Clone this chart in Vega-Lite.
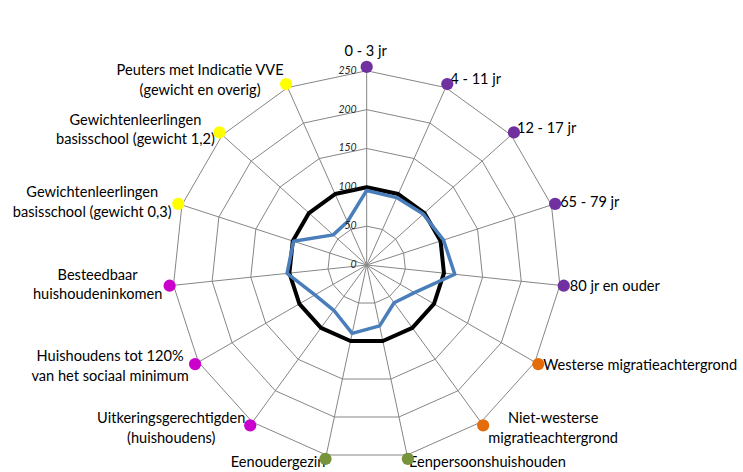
{
  "$schema": "https://vega.github.io/schema/vega-lite/v6.json",
  "width": 743,
  "height": 472,
  "autosize": {"type": "fit", "contains": "padding"},
  "padding": 0,
  "background": "white",
  "config": {"view": {"stroke": null}, "font": "Lato"},
  "datasets": {
    "axes": [
      {"i": 0, "cat": "0 - 3 jr", "grp": "leeftijd", "gebied": 96, "ref": 100},
      {"i": 1, "cat": "4 - 11 jr", "grp": "leeftijd", "gebied": 95, "ref": 100},
      {"i": 2, "cat": "12 - 17 jr", "grp": "leeftijd", "gebied": 98, "ref": 100},
      {"i": 3, "cat": "65 - 79 jr", "grp": "leeftijd", "gebied": 104, "ref": 100},
      {"i": 4, "cat": "80 jr en ouder", "grp": "leeftijd", "gebied": 114, "ref": 100},
      {"i": 5, "cat": "Westerse migratieachtergrond", "grp": "migratie", "gebied": 71, "ref": 100},
      {"i": 6, "cat": "Niet-westerse\nmigratieachtergrond", "grp": "migratie", "gebied": 60, "ref": 100},
      {"i": 7, "cat": "Eenpersoonshuishouden", "grp": "huishouden", "gebied": 80, "ref": 100},
      {"i": 8, "cat": "Eenoudergezin", "grp": "huishouden", "gebied": 90, "ref": 100},
      {"i": 9, "cat": "Uitkeringsgerechtigden\n(huishoudens)", "grp": "inkomen", "gebied": 72, "ref": 100},
      {"i": 10, "cat": "Huishoudens tot 120%\nvan het sociaal minimum", "grp": "inkomen", "gebied": 77, "ref": 100},
      {"i": 11, "cat": "Besteedbaar\nhuishoudeninkomen", "grp": "inkomen", "gebied": 103, "ref": 100},
      {"i": 12, "cat": "Gewichtenleerlingen\nbasisschool (gewicht 0,3)", "grp": "onderwijs", "gebied": 99, "ref": 100},
      {"i": 13, "cat": "Gewichtenleerlingen\nbasisschool (gewicht 1,2)", "grp": "onderwijs", "gebied": 58, "ref": 100},
      {"i": 14, "cat": "Peuters met Indicatie VVE\n(gewicht en overig)", "grp": "onderwijs", "gebied": 61, "ref": 100}
    ],
    "rings": [
      {"level": 50, "i": [0, 1, 2, 3, 4, 5, 6, 7, 8, 9, 10, 11, 12, 13, 14]},
      {"level": 100, "i": [0, 1, 2, 3, 4, 5, 6, 7, 8, 9, 10, 11, 12, 13, 14]},
      {"level": 150, "i": [0, 1, 2, 3, 4, 5, 6, 7, 8, 9, 10, 11, 12, 13, 14]},
      {"level": 200, "i": [0, 1, 2, 3, 4, 5, 6, 7, 8, 9, 10, 11, 12, 13, 14]},
      {"level": 250, "i": [0, 1, 2, 3, 4, 5, 6, 7, 8, 9, 10, 11, 12, 13, 14]}
    ],
    "ticks": [
      {"level": 0}, {"level": 50}, {"level": 100}, {"level": 150}, {"level": 200}, {"level": 250}
    ]
  },
  "encoding": {
    "x": {"field": "x", "type": "quantitative", "scale": {"domain": [-471.9, 484.3], "nice": false, "zero": false}, "axis": null},
    "y": {"field": "y", "type": "quantitative", "scale": {"domain": [-266.4, 341.1], "nice": false, "zero": false}, "axis": null}
  },
  "layer": [
    {
      "data": {"name": "rings"},
      "transform": [
        {"flatten": ["i"]},
        {"calculate": "datum.level*sin(datum.i*2*PI/15)", "as": "x"},
        {"calculate": "datum.level*cos(datum.i*2*PI/15)", "as": "y"}
      ],
      "mark": {"type": "line", "interpolate": "linear-closed", "stroke": "#868686", "strokeWidth": 1},
      "encoding": {"detail": {"field": "level", "type": "nominal"}, "order": {"field": "i", "type": "quantitative"}}
    },
    {
      "data": {"name": "axes"},
      "transform": [
        {"calculate": "0", "as": "x"},
        {"calculate": "0", "as": "y"},
        {"calculate": "250*sin(datum.i*2*PI/15)", "as": "ex"},
        {"calculate": "250*cos(datum.i*2*PI/15)", "as": "ey"}
      ],
      "mark": {"type": "rule", "stroke": "#868686", "strokeWidth": 1},
      "encoding": {"x2": {"field": "ex"}, "y2": {"field": "ey"}}
    },
    {
      "data": {"name": "axes"},
      "transform": [
        {"calculate": "datum.ref*sin(datum.i*2*PI/15)", "as": "x"},
        {"calculate": "datum.ref*cos(datum.i*2*PI/15)", "as": "y"}
      ],
      "mark": {"type": "line", "interpolate": "linear-closed", "stroke": "#000000", "strokeWidth": 4, "strokeJoin": "round"},
      "encoding": {"order": {"field": "i", "type": "quantitative"}}
    },
    {
      "data": {"name": "axes"},
      "transform": [
        {"calculate": "datum.gebied*sin(datum.i*2*PI/15)", "as": "x"},
        {"calculate": "datum.gebied*cos(datum.i*2*PI/15)", "as": "y"}
      ],
      "mark": {"type": "line", "interpolate": "linear-closed", "stroke": "#4A7EBB", "strokeWidth": 3.5, "strokeJoin": "round"},
      "encoding": {"order": {"field": "i", "type": "quantitative"}}
    },
    {
      "data": {"name": "ticks"},
      "transform": [
        {"calculate": "0", "as": "x"},
        {"calculate": "datum.level", "as": "y"}
      ],
      "mark": {"type": "text", "align": "right", "baseline": "middle", "dx": -10, "fontSize": 10.5, "fontStyle": "italic", "fill": "#262626"},
      "encoding": {"text": {"field": "level", "type": "quantitative"}}
    },
    {
      "data": {"name": "axes"},
      "transform": [{"filter": "datum.i==0"}, {"calculate": "255*sin(datum.i*2*PI/15)", "as": "x"}, {"calculate": "255*cos(datum.i*2*PI/15)", "as": "y"}],
      "mark": {"type": "text", "align": "center", "baseline": "middle", "dx": -1, "dy": -15, "fontSize": 14.6, "lineHeight": 19.5, "lineBreak": "\n", "fill": "#000000"},
      "encoding": {"text": {"field": "cat"}}
    },
    {
      "data": {"name": "axes"},
      "transform": [{"filter": "datum.i==1"}, {"calculate": "255*sin(datum.i*2*PI/15)", "as": "x"}, {"calculate": "255*cos(datum.i*2*PI/15)", "as": "y"}],
      "mark": {"type": "text", "align": "left", "baseline": "middle", "dx": 3, "dy": -4, "fontSize": 14.6, "lineHeight": 19.5, "lineBreak": "\n", "fill": "#000000"},
      "encoding": {"text": {"field": "cat"}}
    },
    {
      "data": {"name": "axes"},
      "transform": [{"filter": "datum.i==2"}, {"calculate": "255*sin(datum.i*2*PI/15)", "as": "x"}, {"calculate": "255*cos(datum.i*2*PI/15)", "as": "y"}],
      "mark": {"type": "text", "align": "left", "baseline": "middle", "dx": 3, "dy": -3, "fontSize": 14.6, "lineHeight": 19.5, "lineBreak": "\n", "fill": "#000000"},
      "encoding": {"text": {"field": "cat"}}
    },
    {
      "data": {"name": "axes"},
      "transform": [{"filter": "datum.i==3"}, {"calculate": "255*sin(datum.i*2*PI/15)", "as": "x"}, {"calculate": "255*cos(datum.i*2*PI/15)", "as": "y"}],
      "mark": {"type": "text", "align": "left", "baseline": "middle", "dx": 5, "dy": -1, "fontSize": 14.6, "lineHeight": 19.5, "lineBreak": "\n", "fill": "#000000"},
      "encoding": {"text": {"field": "cat"}}
    },
    {
      "data": {"name": "axes"},
      "transform": [{"filter": "datum.i==4"}, {"calculate": "255*sin(datum.i*2*PI/15)", "as": "x"}, {"calculate": "255*cos(datum.i*2*PI/15)", "as": "y"}],
      "mark": {"type": "text", "align": "left", "baseline": "middle", "dx": 6, "dy": 1, "fontSize": 14.6, "lineHeight": 19.5, "lineBreak": "\n", "fill": "#000000"},
      "encoding": {"text": {"field": "cat"}}
    },
    {
      "data": {"name": "axes"},
      "transform": [{"filter": "datum.i==5"}, {"calculate": "255*sin(datum.i*2*PI/15)", "as": "x"}, {"calculate": "255*cos(datum.i*2*PI/15)", "as": "y"}],
      "mark": {"type": "text", "align": "left", "baseline": "middle", "dx": 5, "dy": 2, "fontSize": 14.6, "lineHeight": 19.5, "lineBreak": "\n", "fill": "#000000"},
      "encoding": {"text": {"field": "cat"}}
    },
    {
      "data": {"name": "axes"},
      "transform": [{"filter": "datum.i==6"}, {"calculate": "255*sin(datum.i*2*PI/15)", "as": "x"}, {"calculate": "255*cos(datum.i*2*PI/15)", "as": "y"}],
      "mark": {"type": "text", "align": "center", "baseline": "middle", "dx": 70, "dy": -6, "fontSize": 14.6, "lineHeight": 19.5, "lineBreak": "\n", "fill": "#000000"},
      "encoding": {"text": {"field": "cat"}}
    },
    {
      "data": {"name": "axes"},
      "transform": [{"filter": "datum.i==7"}, {"calculate": "255*sin(datum.i*2*PI/15)", "as": "x"}, {"calculate": "255*cos(datum.i*2*PI/15)", "as": "y"}],
      "mark": {"type": "text", "align": "left", "baseline": "middle", "dx": 1, "dy": 4, "fontSize": 14.6, "lineHeight": 19.5, "lineBreak": "\n", "fill": "#000000"},
      "encoding": {"text": {"field": "cat"}}
    },
    {
      "data": {"name": "axes"},
      "transform": [{"filter": "datum.i==8"}, {"calculate": "255*sin(datum.i*2*PI/15)", "as": "x"}, {"calculate": "255*cos(datum.i*2*PI/15)", "as": "y"}],
      "mark": {"type": "text", "align": "right", "baseline": "middle", "dx": 0, "dy": 4, "fontSize": 14.6, "lineHeight": 19.5, "lineBreak": "\n", "fill": "#000000"},
      "encoding": {"text": {"field": "cat"}}
    },
    {
      "data": {"name": "axes"},
      "transform": [{"filter": "datum.i==9"}, {"calculate": "255*sin(datum.i*2*PI/15)", "as": "x"}, {"calculate": "255*cos(datum.i*2*PI/15)", "as": "y"}],
      "mark": {"type": "text", "align": "center", "baseline": "middle", "dx": -79, "dy": -6, "fontSize": 14.6, "lineHeight": 19.5, "lineBreak": "\n", "fill": "#000000"},
      "encoding": {"text": {"field": "cat"}}
    },
    {
      "data": {"name": "axes"},
      "transform": [{"filter": "datum.i==10"}, {"calculate": "255*sin(datum.i*2*PI/15)", "as": "x"}, {"calculate": "255*cos(datum.i*2*PI/15)", "as": "y"}],
      "mark": {"type": "text", "align": "center", "baseline": "middle", "dx": -85, "dy": -7, "fontSize": 14.6, "lineHeight": 19.5, "lineBreak": "\n", "fill": "#000000"},
      "encoding": {"text": {"field": "cat"}}
    },
    {
      "data": {"name": "axes"},
      "transform": [{"filter": "datum.i==11"}, {"calculate": "255*sin(datum.i*2*PI/15)", "as": "x"}, {"calculate": "255*cos(datum.i*2*PI/15)", "as": "y"}],
      "mark": {"type": "text", "align": "center", "baseline": "middle", "dx": -72, "dy": -10, "fontSize": 14.6, "lineHeight": 19.5, "lineBreak": "\n", "fill": "#000000"},
      "encoding": {"text": {"field": "cat"}}
    },
    {
      "data": {"name": "axes"},
      "transform": [{"filter": "datum.i==12"}, {"calculate": "255*sin(datum.i*2*PI/15)", "as": "x"}, {"calculate": "255*cos(datum.i*2*PI/15)", "as": "y"}],
      "mark": {"type": "text", "align": "center", "baseline": "middle", "dx": -86, "dy": -10.5, "fontSize": 14.6, "lineHeight": 19.5, "lineBreak": "\n", "fill": "#000000"},
      "encoding": {"text": {"field": "cat"}}
    },
    {
      "data": {"name": "axes"},
      "transform": [{"filter": "datum.i==13"}, {"calculate": "255*sin(datum.i*2*PI/15)", "as": "x"}, {"calculate": "255*cos(datum.i*2*PI/15)", "as": "y"}],
      "mark": {"type": "text", "align": "center", "baseline": "middle", "dx": -84, "dy": -11.5, "fontSize": 14.6, "lineHeight": 19.5, "lineBreak": "\n", "fill": "#000000"},
      "encoding": {"text": {"field": "cat"}}
    },
    {
      "data": {"name": "axes"},
      "transform": [{"filter": "datum.i==14"}, {"calculate": "255*sin(datum.i*2*PI/15)", "as": "x"}, {"calculate": "255*cos(datum.i*2*PI/15)", "as": "y"}],
      "mark": {"type": "text", "align": "center", "baseline": "middle", "dx": -86, "dy": -13, "fontSize": 14.6, "lineHeight": 19.5, "lineBreak": "\n", "fill": "#000000"},
      "encoding": {"text": {"field": "cat"}}
    },
    {
      "data": {"name": "axes"},
      "transform": [
        {"calculate": "255*sin(datum.i*2*PI/15)", "as": "x"},
        {"calculate": "255*cos(datum.i*2*PI/15)", "as": "y"}
      ],
      "mark": {"type": "point", "filled": true, "size": 150, "opacity": 1, "strokeWidth": 0},
      "encoding": {
        "color": {
          "field": "grp",
          "type": "nominal",
          "scale": {"domain": ["leeftijd", "migratie", "huishouden", "inkomen", "onderwijs"], "range": ["#7030A0", "#E46C0A", "#77933C", "#CC00CC", "#FFFF00"]},
          "legend": null
        }
      }
    }
  ]
}
